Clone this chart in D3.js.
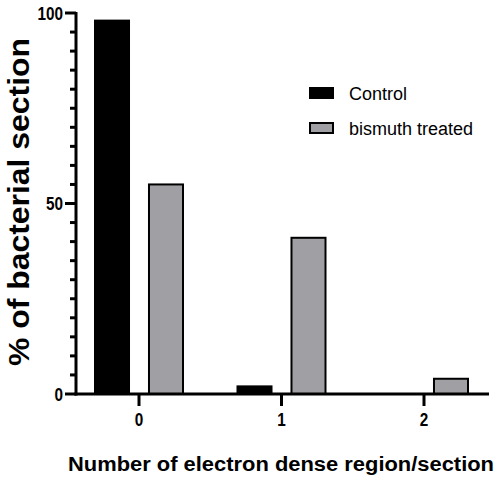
<!DOCTYPE html>
<html>
<head>
<meta charset="utf-8">
<script src="https://cdn.jsdelivr.net/npm/d3@7"></script>
<style>
  body { margin: 0; background: #fff; }
  text { font-family: "Liberation Sans", Arial, sans-serif; }
</style>
</head>
<body>
<div id="chart"></div>
<script>
// data
const categories = ["0", "1", "2"];
const seriesNames = ["Control", "bismuth treated"];
const controlValues = [98, 2, 0];
const bismuthValues = [55, 41, 4];
const yTicks = [0, 50, 100];

const colors = { "Control": "#000000", "bismuth treated": "#a09fa4" };

const width = 497, height = 477;

const svg = d3.select("#chart")
  .append("svg")
  .attr("width", width)
  .attr("height", height);

// scales
const y = d3.scaleLinear().domain([0, 100]).range([394, 13]);
const x = d3.scalePoint().domain(categories).range([139, 424]);
const x1 = d3.scaleBand().domain(seriesNames).range([-44, 44]).paddingInner(0.37);

const rows = categories.map((c, i) => ({
  cat: c,
  values: [
    { name: "Control", value: controlValues[i] },
    { name: "bismuth treated", value: bismuthValues[i] }
  ]
}));

// bars
const groups = svg.append("g")
  .selectAll(".group")
  .data(rows)
  .enter().append("g")
  .attr("transform", d => `translate(${x(d.cat)},0)`);

groups.selectAll("rect")
  .data(d => d.values.filter(v => v.value > 0))
  .enter().append("rect")
  .attr("x", d => x1(d.name))
  .attr("width", x1.bandwidth())
  .attr("y", d => y(d.value))
  .attr("height", d => y(0) - y(d.value))
  .attr("fill", d => colors[d.name])
  .attr("stroke", "#000")
  .attr("stroke-width", 2);

// y axis with minor ticks every 5
const axisX = 76;
const yAxis = svg.append("g");
yAxis.append("line")
  .attr("x1", axisX).attr("x2", axisX)
  .attr("y1", y(100) - 1).attr("y2", y(0) + 1.5)
  .attr("stroke", "#000").attr("stroke-width", 3);

yAxis.selectAll(".minor")
  .data(d3.range(0, 101, 5))
  .enter().append("line")
  .attr("x1", d => yTicks.includes(d) ? axisX - 11 : axisX - 6)
  .attr("x2", axisX)
  .attr("y1", d => y(d)).attr("y2", d => y(d))
  .attr("stroke", "#000").attr("stroke-width", 3);

yAxis.selectAll(".ylab")
  .data(yTicks)
  .enter().append("text")
  .attr("transform", d => `translate(63,${y(d) + 6.5}) scale(0.85,1)`)
  .attr("text-anchor", "end")
  .attr("font-size", 18)
  .attr("font-weight", "bold")
  .text(d => d);

// x axis
const xAxis = svg.append("g");
xAxis.append("line")
  .attr("x1", axisX - 1.5).attr("x2", 489)
  .attr("y1", y(0)).attr("y2", y(0))
  .attr("stroke", "#000").attr("stroke-width", 3);

xAxis.selectAll(".xtick")
  .data(categories)
  .enter().append("line")
  .attr("x1", d => x(d)).attr("x2", d => x(d))
  .attr("y1", y(0)).attr("y2", y(0) + 12)
  .attr("stroke", "#000").attr("stroke-width", 3);

xAxis.selectAll(".xlab")
  .data(categories)
  .enter().append("text")
  .attr("transform", d => `translate(${x(d)},426) scale(0.85,1)`)
  .attr("text-anchor", "middle")
  .attr("font-size", 18)
  .attr("font-weight", "bold")
  .text(d => d);

// axis titles
svg.append("text")
  .attr("x", 281)
  .attr("y", 471)
  .attr("text-anchor", "middle")
  .attr("font-size", 20)
  .attr("font-weight", "bold")
  .attr("textLength", 426)
  .attr("lengthAdjust", "spacingAndGlyphs")
  .text("Number of electron dense region/section");

svg.append("text")
  .attr("transform", "translate(29,202) rotate(-90)")
  .attr("text-anchor", "middle")
  .attr("font-size", 30)
  .attr("font-weight", "bold")
  .attr("textLength", 328)
  .attr("lengthAdjust", "spacingAndGlyphs")
  .text("% of bacterial section");

// legend
const legend = svg.append("g")
  .selectAll(".legend")
  .data(seriesNames)
  .enter().append("g")
  .attr("transform", (d, i) => `translate(310,${93 + i * 35})`);

legend.append("rect")
  .attr("x", 0).attr("y", -5)
  .attr("width", 23).attr("height", 10)
  .attr("fill", d => colors[d])
  .attr("stroke", "#000")
  .attr("stroke-width", 2);

legend.append("text")
  .attr("x", 39).attr("y", 7)
  .attr("font-size", 18)
  .text(d => d);
</script>
</body>
</html>
